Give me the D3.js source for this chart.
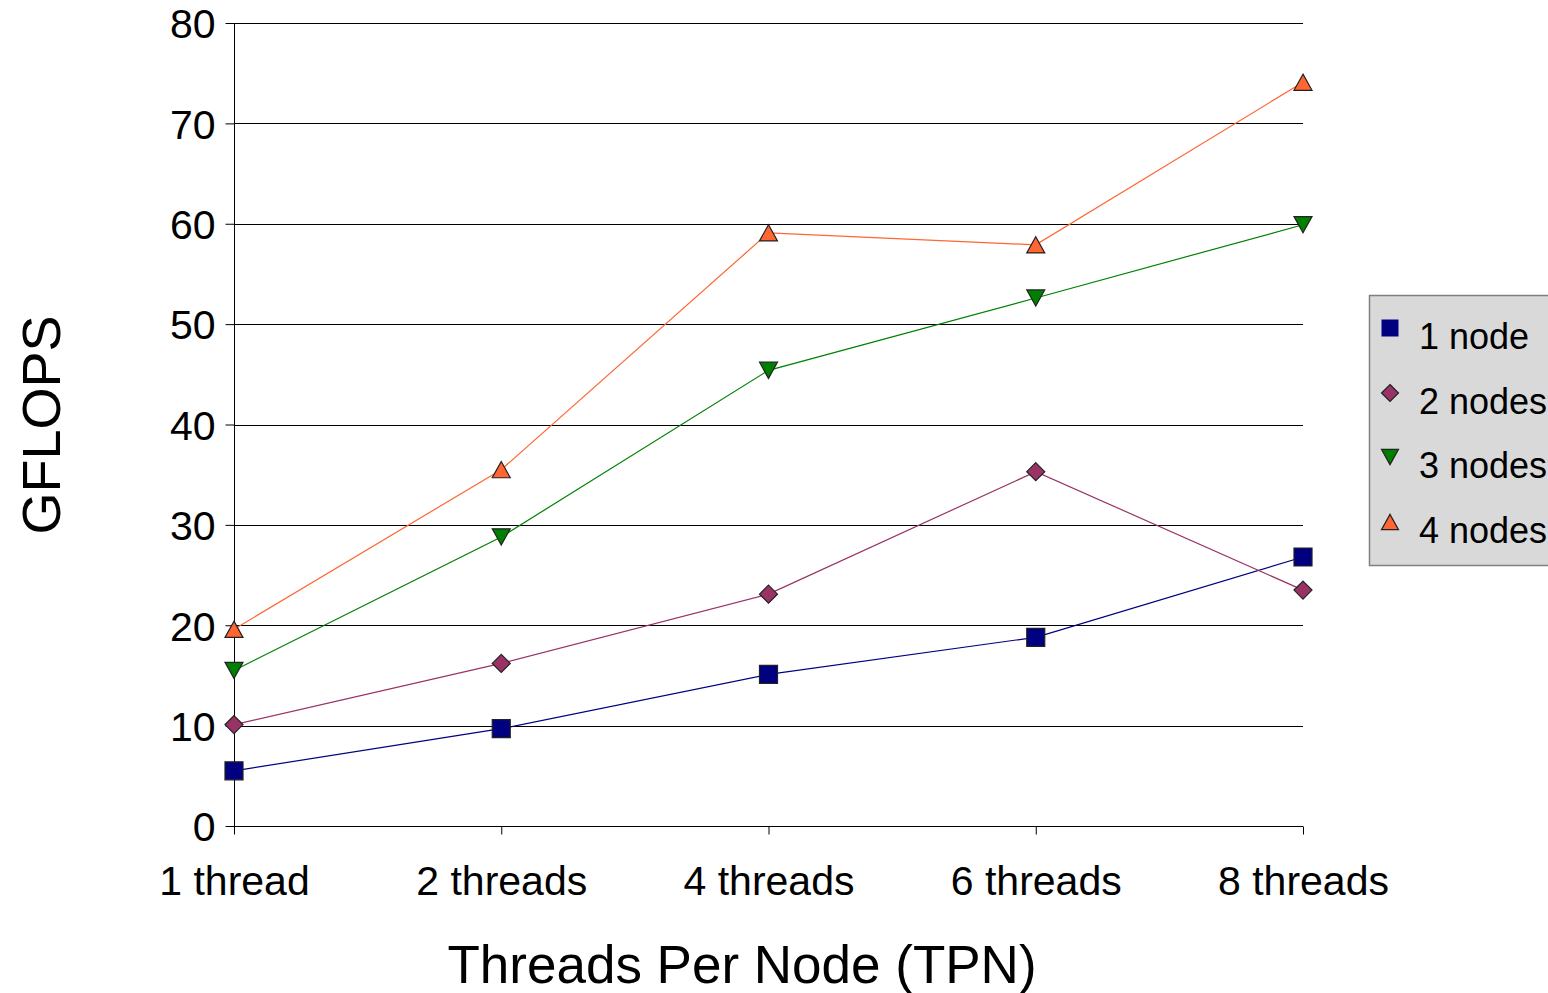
<!DOCTYPE html>
<html>
<head>
<meta charset="utf-8">
<script src="https://cdn.jsdelivr.net/npm/d3@7"></script>
<style>
  html, body { margin: 0; padding: 0; background: #fff; }
  svg { display: block; font-family: "Liberation Sans", Arial, sans-serif; }
</style>
</head>
<body>
<svg id="chart" width="1548" height="993"></svg>
<script>
// Thread counts per node on the x axis
const categories = ["1 thread", "2 threads", "4 threads", "6 threads", "8 threads"];
const yTicks = [0, 10, 20, 30, 40, 50, 60, 70, 80];

// GFLOPS measured for each node count
const oneNode   = [5.5, 9.7, 15.1, 18.8, 26.8];
const twoNodes  = [10.1, 16.2, 23.1, 35.3, 23.5];
const threeNodes = [15.5, 28.8, 45.4, 52.6, 59.9];
const fourNodes = [19.6, 35.5, 59.1, 57.9, 74.1];

const seriesNames = ["1 node", "2 nodes", "3 nodes", "4 nodes"];
const seriesColors = ["#000080", "#993366", "#008000", "#FF6633"];
const seriesShapes = ["square", "diamond", "down", "up"];
const seriesValues = [oneNode, twoNodes, threeNodes, fourNodes];

const svg = d3.select("#chart");
const plotLeft = 234, plotRight = 1303, plotTop = 23, plotBottom = 826;

const x = d3.scalePoint().domain(categories).range([plotLeft, plotRight]);
const y = d3.scaleLinear().domain([0, 80]).range([plotBottom, plotTop]);

// Horizontal gridlines
svg.append("g").selectAll("line").data(yTicks.filter(d => d > 0)).join("line")
  .attr("x1", plotLeft).attr("x2", plotRight)
  .attr("y1", d => Math.round(y(d)) + 0.5).attr("y2", d => Math.round(y(d)) + 0.5)
  .attr("stroke", "#000").attr("stroke-width", 1);

// Y axis
const yAxis = d3.axisLeft(y).tickValues(yTicks).tickSize(9).tickPadding(10).tickFormat(d3.format("d"));
const gy = svg.append("g").attr("transform", `translate(${plotLeft + 0.5},0)`).call(yAxis);
gy.select(".domain").attr("stroke", "#000").attr("d", `M0,${plotTop}V${plotBottom + 8}`);
gy.selectAll(".tick line").attr("stroke", "#000");
gy.selectAll(".tick text").attr("font-size", 41).attr("fill", "#000")
  .attr("font-family", "Liberation Sans, Arial, sans-serif").attr("dx", 0).attr("dy", "0.36em");

// X axis
const xAxis = d3.axisBottom(x).tickSize(8).tickPadding(12);
const gx = svg.append("g").attr("transform", `translate(0,${plotBottom + 0.5})`).call(xAxis);
gx.select(".domain").attr("stroke", "#000").attr("d", `M${plotLeft},0H${plotRight}`);
gx.selectAll(".tick line").attr("stroke", "#000");
gx.selectAll(".tick text").attr("font-size", 41).attr("fill", "#000")
  .attr("font-family", "Liberation Sans, Arial, sans-serif")
  .attr("dy", null).attr("y", 68.5);

// Axis titles
svg.append("text").attr("x", 742).attr("y", 983).attr("text-anchor", "middle")
  .attr("font-size", 53).attr("fill", "#000").text("Threads Per Node (TPN)");
svg.append("text").attr("transform", "translate(60,425) rotate(-90)").attr("text-anchor", "middle")
  .attr("font-size", 54).attr("fill", "#000").text("GFLOPS");

// Marker path generator
function markerPath(shape, s) {
  const h = s / 2;
  switch (shape) {
    case "square": return `M${-h},${-h}H${h}V${h}H${-h}Z`;
    case "diamond": return `M0,${-h}L${h},0L0,${h}L${-h},0Z`;
    case "down": return `M${-h},${-h * 0.9}H${h}L0,${h * 0.9}Z`;
    case "up": return `M0,${-h * 0.9}L${h},${h * 0.9}H${-h}Z`;
  }
}
const markerSize = [18, 18, 18, 18];

const line = d3.line().x((d, i) => x(categories[i])).y(d => y(d));

seriesValues.forEach((vals, k) => {
  const g = svg.append("g");
  g.append("path").attr("d", line(vals)).attr("fill", "none")
    .attr("stroke", seriesColors[k]).attr("stroke-width", 1.2);
  g.selectAll("path.m").data(vals).join("path").attr("class", "m")
    .attr("transform", (d, i) => `translate(${x(categories[i])},${y(d)})`)
    .attr("d", markerPath(seriesShapes[k], markerSize[k]))
    .attr("fill", seriesColors[k]).attr("stroke", "#222").attr("stroke-width", 1.2);
});

// Legend
const lg = svg.append("g");
lg.append("rect").attr("x", 1369.5).attr("y", 295.5).attr("width", 190).attr("height", 270)
  .attr("fill", "#d9d9d9").attr("stroke", "#808080").attr("stroke-width", 1.5);
const legendY = [328, 393, 457, 522];
seriesNames.forEach((name, k) => {
  lg.append("path").attr("transform", `translate(1390,${legendY[k]})`)
    .attr("d", markerPath(seriesShapes[k], 17))
    .attr("fill", seriesColors[k]).attr("stroke", k === 0 ? "none" : "#222").attr("stroke-width", 1.2);
  lg.append("text").attr("x", 1419).attr("y", legendY[k] + 21)
    .attr("font-size", 36).attr("fill", "#000").text(name);
});
</script>
</body>
</html>
